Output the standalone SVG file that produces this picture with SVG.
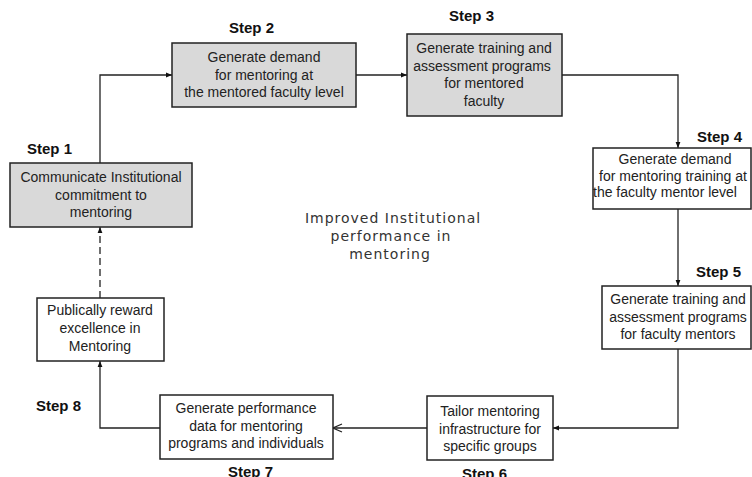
<svg xmlns="http://www.w3.org/2000/svg" width="752" height="477" viewBox="0 0 752 477">
<defs>
<style>
.box{stroke:#222;stroke-width:1.5;fill:#fff}
.gray{fill:#d9d9d9}
.t{font-family:"Liberation Sans",Arial,sans-serif;font-size:14px;fill:#222;text-anchor:middle}
.step{font-family:"Liberation Sans",Arial,sans-serif;font-size:15px;font-weight:bold;fill:#111}
.center{font-family:"DejaVu Sans",Verdana,sans-serif;font-size:14px;letter-spacing:1px;fill:#333;text-anchor:middle}
.ln{fill:none;stroke:#222;stroke-width:1.3}
</style>
<marker id="arr" viewBox="0 0 10 10" refX="10" refY="5" markerWidth="6" markerHeight="6" orient="auto" markerUnits="userSpaceOnUse">
<path d="M0,1 L10,5 L0,9 Z" fill="#111"/>
</marker>
<marker id="open" viewBox="0 0 10 10" refX="10" refY="5" markerWidth="10" markerHeight="10" orient="auto" markerUnits="userSpaceOnUse">
<path d="M1,1 L10,5 L1,9" fill="none" stroke="#222" stroke-width="1.2"/>
</marker>
</defs>
<rect width="752" height="477" fill="#fff"/>
<g id="connectors">
<path class="ln" d="M100,163 V75 H172" marker-end="url(#arr)"/>
<path class="ln" d="M356,75 H407" marker-end="url(#arr)"/>
<path class="ln" d="M562,75 H678 V148" marker-end="url(#arr)"/>
<path class="ln" d="M678,209 V286" marker-end="url(#arr)"/>
<path class="ln" d="M678,349 V428 H553" marker-end="url(#arr)"/>
<path class="ln" d="M427,428 H333" marker-end="url(#open)"/>
<path class="ln" d="M160,428 H100 V361" marker-end="url(#arr)"/>
<path class="ln" d="M100,298 V227" stroke-dasharray="7,4" marker-end="url(#arr)"/>
</g>
<g id="step1">
<rect class="box gray" x="10" y="163" width="182" height="64"/>
<text class="t" x="101" y="182">Communicate Institutional</text>
<text class="t" x="101" y="199.5">commitment to</text>
<text class="t" x="101" y="217">mentoring</text>
<text class="step" x="27" y="154">Step 1</text>
</g>
<g id="step2">
<rect class="box gray" x="172" y="43" width="184" height="64"/>
<text class="t" x="264" y="62">Generate demand</text>
<text class="t" x="264" y="79.5">for mentoring at</text>
<text class="t" x="264" y="97">the mentored faculty level</text>
<text class="step" x="229" y="33">Step 2</text>
</g>
<g id="step3">
<rect class="box gray" x="407" y="34" width="155" height="82"/>
<text class="t" x="484" y="53">Generate training and</text>
<text class="t" x="482" y="70.5">assessment programs</text>
<text class="t" x="484" y="88">for mentored</text>
<text class="t" x="484" y="105.5">faculty</text>
<text class="step" x="449" y="21">Step 3</text>
</g>
<g id="step4">
<rect class="box" x="593" y="148" width="158" height="61"/>
<text class="t" x="675" y="164">Generate demand</text>
<text class="t" x="673" y="180.5">for mentoring training at</text>
<text class="t" x="665" y="197">the faculty mentor level</text>
<text class="step" x="697" y="142">Step 4</text>
</g>
<g id="step5">
<rect class="box" x="602" y="286" width="149" height="63"/>
<text class="t" x="678" y="304">Generate training and</text>
<text class="t" x="678" y="321.5">assessment programs</text>
<text class="t" x="678" y="339">for faculty mentors</text>
<text class="step" x="696" y="277">Step 5</text>
</g>
<g id="step6">
<rect class="box" x="427" y="396" width="126" height="64"/>
<text class="t" x="490" y="416">Tailor mentoring</text>
<text class="t" x="490" y="433.5">infrastructure for</text>
<text class="t" x="490" y="451">specific groups</text>
<text class="step" x="462" y="479">Step 6</text>
</g>
<g id="step7">
<rect class="box" x="160" y="395" width="173" height="64"/>
<text class="t" x="246" y="413">Generate performance</text>
<text class="t" x="246" y="430.5">data for mentoring</text>
<text class="t" x="246" y="448">programs and individuals</text>
<text class="step" x="228" y="477">Step 7</text>
</g>
<g id="step8">
<rect class="box" x="37" y="298" width="127" height="63"/>
<text class="t" x="100" y="315">Publically reward</text>
<text class="t" x="100" y="333">excellence in</text>
<text class="t" x="100" y="351">Mentoring</text>
<text class="step" x="36" y="411">Step 8</text>
</g>
<g id="center">
<text class="center" x="393" y="223">Improved Institutional</text>
<text class="center" x="391" y="241">performance in</text>
<text class="center" x="390" y="259">mentoring</text>
</g>
</svg>
